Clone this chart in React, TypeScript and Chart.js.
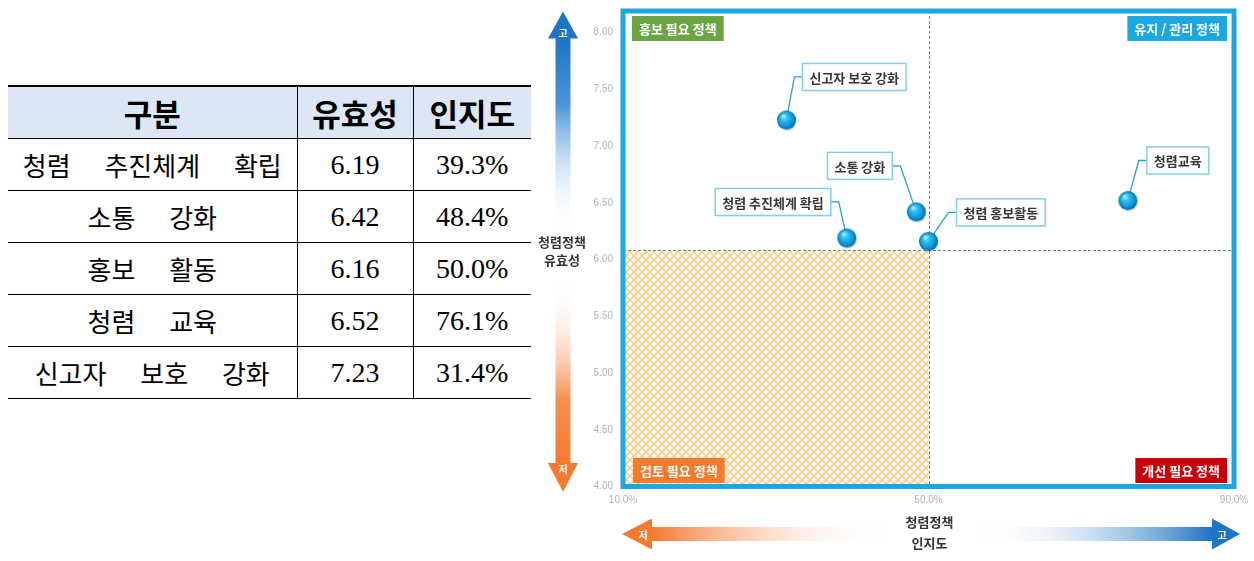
import React, { useEffect, useRef } from "react";
import { Chart, registerables } from "chart.js";

Chart.register(...registerables);

// ---------------- DATA ----------------
const tableHeaders = ["구분", "유효성", "인지도"];
const tableCategories = ["청렴 추진체계 확립", "소통 강화", "홍보 활동", "청렴 교육", "신고자 보호 강화"];
const chartLabels = ["청렴 추진체계 확립", "소통 강화", "청렴 홍보활동", "청렴교육", "신고자 보호 강화"];
const effectiveness = [6.19, 6.42, 6.16, 6.52, 7.23];
const awareness = [39.3, 48.4, 50.0, 76.1, 31.4];
const xTicks = [10, 50, 90];
const yTicks = [4, 4.5, 5, 5.5, 6, 6.5, 7, 7.5, 8];
const xRange = [10, 90];
const yRange = [4, 8.19];
const xDivider = 50;
const yDivider = 6.08;
const quadrantLabels = ["홍보 필요 정책", "유지 / 관리 정책", "검토 필요 정책", "개선 필요 정책"];
const yAxisTitle = ["청렴정책", "유효성"];
const xAxisTitle = ["청렴정책", "인지도"];
const highLabel = "고";
const lowLabel = "저";

// ---------------- STYLES ----------------
const KR = '"Noto Sans CJK KR", "Noto Sans", sans-serif';
const BORDER_BLUE = "#1ca7e3";
const quadrantStyle = [
  { color: "#6ca544", corner: "tl", ox: 9, oy: 5 },
  { color: "#1ca7e3", corner: "tr", ox: 7, oy: 5 },
  { color: "#f27b2e", corner: "bl", ox: 10, oy: 3.5 },
  { color: "#c8000b", corner: "br", ox: 7, oy: 3.5 },
];
// callout box placement relative to its point (pixels)
const calloutStyle = [
  { anchor: "right", dx: -16, dy: -36 },
  { anchor: "right", dx: -24, dy: -46 },
  { anchor: "left", dx: 28, dy: -29 },
  { anchor: "left", dx: 19, dy: -40 },
  { anchor: "left", dx: 16, dy: -43 },
];

function makeSphere(r: number) {
  const size = Math.ceil(r * 2 + 4);
  const c = document.createElement("canvas");
  c.width = size;
  c.height = size;
  const g = c.getContext("2d")!;
  const cx = size / 2;
  const cy = size / 2;
  g.fillStyle = "rgba(0,60,100,0.18)";
  g.beginPath();
  g.arc(cx + 0.8, cy + 1.2, r, 0, Math.PI * 2);
  g.fill();
  const grad = g.createRadialGradient(cx - r * 0.35, cy - r * 0.45, r * 0.05, cx, cy, r);
  grad.addColorStop(0, "#b4f2ff");
  grad.addColorStop(0.3, "#33c3f2");
  grad.addColorStop(0.8, "#0b8fd2");
  grad.addColorStop(1, "#07639f");
  g.fillStyle = grad;
  g.beginPath();
  g.arc(cx, cy, r, 0, Math.PI * 2);
  g.fill();
  return c;
}

function makeHatch(ctx: CanvasRenderingContext2D) {
  const c = document.createElement("canvas");
  c.width = 8;
  c.height = 8;
  const g = c.getContext("2d")!;
  g.fillStyle = "#fff6f1";
  g.fillRect(0, 0, 8, 8);
  g.lineWidth = 1.3;
  g.strokeStyle = "#f6c08e";
  g.beginPath();
  g.moveTo(0, 8); g.lineTo(8, 0);
  g.moveTo(-1, 1); g.lineTo(1, -1);
  g.moveTo(7, 9); g.lineTo(9, 7);
  g.stroke();
  g.strokeStyle = "#efd573";
  g.beginPath();
  g.moveTo(0, 0); g.lineTo(8, 8);
  g.moveTo(-1, 7); g.lineTo(1, 9);
  g.moveTo(7, -1); g.lineTo(9, 1);
  g.stroke();
  return ctx.createPattern(c, "repeat")!;
}

const backgroundPlugin = {
  id: "quadBg",
  beforeDatasetsDraw(chart: any) {
    const { ctx, chartArea: a, scales } = chart;
    const xs = scales.x;
    const ys = scales.y;
    const xd = xs.getPixelForValue(xDivider);
    const yd = ys.getPixelForValue(yDivider);
    ctx.save();
    ctx.fillStyle = makeHatch(ctx);
    ctx.fillRect(a.left, yd, xd - a.left, a.bottom - yd);
    ctx.strokeStyle = "#5f8aa6";
    ctx.lineWidth = 1;
    ctx.setLineDash([3, 2]);
    ctx.beginPath();
    ctx.moveTo(Math.round(xd) + 0.5, a.top);
    ctx.lineTo(Math.round(xd) + 0.5, a.bottom);
    ctx.moveTo(a.left, Math.round(yd) + 0.5);
    ctx.lineTo(a.right, Math.round(yd) + 0.5);
    ctx.stroke();
    ctx.setLineDash([]);

    // callouts
    const meta = chart.getDatasetMeta(0);
    ctx.font = `bold 13px ${KR}`;
    meta.data.forEach((pt: any, i: number) => {
      const st = calloutStyle[i];
      const text = chartLabels[i];
      const tw = ctx.measureText(text).width;
      const w = tw + 14;
      const h = 27;
      const cy = pt.y + st.dy;
      let bx: number, ex: number, jx: number;
      if (st.anchor === "right") {
        bx = pt.x + st.dx - w;
        ex = pt.x + st.dx;
        jx = ex + 8;
      } else {
        bx = pt.x + st.dx;
        ex = bx;
        jx = ex - 8;
      }
      ctx.strokeStyle = "#2f9fcc";
      ctx.lineWidth = 1.3;
      ctx.beginPath();
      ctx.moveTo(ex, cy);
      ctx.lineTo(jx, cy);
      ctx.lineTo(pt.x, pt.y);
      ctx.stroke();
      ctx.fillStyle = "rgba(0,0,0,0.06)";
      ctx.fillRect(bx + 1.5, cy - h / 2 + 1.5, w, h);
      ctx.fillStyle = "#ffffff";
      ctx.fillRect(bx, cy - h / 2, w, h);
      ctx.strokeStyle = "#86cfe8";
      ctx.lineWidth = 1.5;
      ctx.strokeRect(bx, cy - h / 2, w, h);
      ctx.fillStyle = "#363636";
      ctx.textAlign = "center";
      ctx.textBaseline = "middle";
      ctx.fillText(text, bx + w / 2, cy + 1);
    });
    ctx.restore();
  },
  afterDatasetsDraw(chart: any) {
    const { ctx, chartArea: a } = chart;
    ctx.save();
    ctx.font = `bold 13px ${KR}`;
    quadrantLabels.forEach((t, i) => {
      const st = quadrantStyle[i];
      const w = ctx.measureText(t).width + 14;
      const h = 25;
      const x = st.corner.endsWith("l") ? a.left + st.ox : a.right - st.ox - w;
      const y = st.corner.startsWith("t") ? a.top + st.oy : a.bottom - st.oy - h;
      ctx.fillStyle = st.color;
      ctx.fillRect(x, y, w, h);
      ctx.fillStyle = "#ffffff";
      ctx.textAlign = "center";
      ctx.textBaseline = "middle";
      ctx.fillText(t, x + w / 2, y + h / 2 + 1);
    });
    ctx.strokeStyle = BORDER_BLUE;
    ctx.lineWidth = 5;
    ctx.strokeRect(a.left, a.top, a.right - a.left, a.bottom - a.top);
    ctx.restore();
  },
  afterDraw(chart: any) {
    const { ctx, chartArea: a } = chart;
    ctx.save();
    const blue = "#1f74c4";
    const orange = "#f47a30";
    // vertical arrows
    const vx = a.left - 60;
    const midY = (a.top + a.bottom) / 2;
    const topTip = a.top + 0.5;
    const headLen = 27;
    const headHalf = 15;
    const shaftHalf = 7.5;
    // up
    let g = ctx.createLinearGradient(0, topTip + headLen, 0, midY - 20);
    g.addColorStop(0, blue);
    g.addColorStop(0.35, "rgba(45,130,210,0.85)");
    g.addColorStop(1, "rgba(255,255,255,0)");
    ctx.fillStyle = g;
    ctx.fillRect(vx - shaftHalf, topTip + headLen - 1, shaftHalf * 2, midY - 20 - topTip - headLen);
    ctx.fillStyle = blue;
    ctx.beginPath();
    ctx.moveTo(vx, topTip);
    ctx.lineTo(vx + headHalf, topTip + headLen);
    ctx.lineTo(vx - headHalf, topTip + headLen);
    ctx.closePath();
    ctx.fill();
    // down
    const botTip = a.bottom + 5.5;
    g = ctx.createLinearGradient(0, midY + 33, 0, botTip - headLen);
    g.addColorStop(0, "rgba(255,255,255,0)");
    g.addColorStop(0.65, "rgba(244,122,48,0.85)");
    g.addColorStop(1, orange);
    ctx.fillStyle = g;
    ctx.fillRect(vx - shaftHalf, midY + 33, shaftHalf * 2, botTip - headLen - midY - 32);
    ctx.fillStyle = orange;
    ctx.beginPath();
    ctx.moveTo(vx, botTip);
    ctx.lineTo(vx + headHalf, botTip - headLen - 2);
    ctx.lineTo(vx - headHalf, botTip - headLen - 2);
    ctx.closePath();
    ctx.fill();

    ctx.fillStyle = "#ffffff";
    ctx.font = `bold 10px ${KR}`;
    ctx.textAlign = "center";
    ctx.textBaseline = "middle";
    ctx.fillText(highLabel, vx, topTip + headLen - 5);
    ctx.fillText(lowLabel, vx, botTip - headLen + 4);

    ctx.fillStyle = "#333333";
    ctx.font = `bold 13px ${KR}`;
    ctx.fillText(yAxisTitle[0], vx - 1, midY - 7);
    ctx.fillText(yAxisTitle[1], vx - 1, midY + 11);

    // horizontal arrows
    const hy = a.bottom + 47.5;
    const midX = (a.left + a.right) / 2;
    const leftTip = a.left - 1;
    const hHead = 30;
    const hHalf = 15.5;
    const hShaft = 7;
    g = ctx.createLinearGradient(leftTip + hHead, 0, midX - 42, 0);
    g.addColorStop(0, orange);
    g.addColorStop(1, "rgba(255,255,255,0)");
    ctx.fillStyle = g;
    ctx.fillRect(leftTip + hHead - 1, hy - hShaft, midX - 42 - leftTip - hHead, hShaft * 2);
    ctx.fillStyle = orange;
    ctx.beginPath();
    ctx.moveTo(leftTip, hy);
    ctx.lineTo(leftTip + hHead, hy - hHalf);
    ctx.lineTo(leftTip + hHead, hy + hHalf);
    ctx.closePath();
    ctx.fill();

    const rightTip = a.right + 6;
    g = ctx.createLinearGradient(midX + 49, 0, rightTip - hHead + 2, 0);
    g.addColorStop(0, "rgba(255,255,255,0)");
    g.addColorStop(1, blue);
    ctx.fillStyle = g;
    ctx.fillRect(midX + 49, hy - hShaft, rightTip - hHead + 2 - midX - 49, hShaft * 2);
    ctx.fillStyle = blue;
    ctx.beginPath();
    ctx.moveTo(rightTip, hy);
    ctx.lineTo(rightTip - hHead + 2, hy - hHalf);
    ctx.lineTo(rightTip - hHead + 2, hy + hHalf);
    ctx.closePath();
    ctx.fill();

    ctx.fillStyle = "#ffffff";
    ctx.font = `bold 10px ${KR}`;
    ctx.fillText(lowLabel, leftTip + 21, hy + 1);
    ctx.fillText(highLabel, rightTip - 18, hy + 1);

    ctx.fillStyle = "#333333";
    ctx.font = `bold 13px ${KR}`;
    ctx.fillText(xAxisTitle[0], midX + 1, hy - 12);
    ctx.fillText(xAxisTitle[1], midX + 1, hy + 9);
    ctx.restore();
  },
};

const border = "1px solid #000";
const headerCell: React.CSSProperties = {
  background: "#dde6f4",
  fontFamily: KR,
  fontWeight: 700,
  fontSize: 31,
  lineHeight: "40px",
  height: 51,
  padding: 0,
  textAlign: "center",
  borderTop: "2px solid #000",
  borderBottom: border,
};
const bodyCell: React.CSSProperties = {
  height: 51,
  padding: 0,
  textAlign: "center",
  borderBottom: border,
  lineHeight: "36px",
};

export default function App() {
  const ref = useRef<HTMLCanvasElement>(null);
  useEffect(() => {
    const sphere = makeSphere(9.5);
    const chart = new Chart(ref.current!, {
      type: "scatter",
      data: {
        datasets: [
          {
            label: "정책",
            data: awareness.map((x, i) => ({ x, y: effectiveness[i] })),
            pointStyle: sphere as any,
            pointRadius: 10,
            pointHoverRadius: 10,
          },
        ],
      },
      options: {
        animation: false,
        responsive: true,
        maintainAspectRatio: false,
        events: [],
        layout: { padding: { top: 7.5, right: 20, left: 0, bottom: 0 } },
        plugins: { legend: { display: false }, tooltip: { enabled: false } },
        scales: {
          x: {
            type: "linear",
            min: xRange[0],
            max: xRange[1],
            grid: { display: false, drawTicks: false },
            border: { display: false },
            afterBuildTicks: (s: any) => {
              s.ticks = xTicks.map((v) => ({ value: v }));
            },
            afterFit: (s: any) => {
              s.height = 74.5;
              s.paddingLeft = 0;
              s.paddingRight = 0;
            },
            ticks: {
              padding: 8,
              color: "#b3b3b3",
              font: { size: 10, family: '"Liberation Sans", sans-serif' },
              callback: (v: any) => Number(v).toFixed(1) + "%",
              maxRotation: 0,
              autoSkip: false,
            },
          },
          y: {
            type: "linear",
            min: yRange[0],
            max: yRange[1],
            grid: { display: false, drawTicks: false },
            border: { display: false },
            afterBuildTicks: (s: any) => {
              s.ticks = yTicks.map((v) => ({ value: v }));
            },
            afterFit: (s: any) => {
              s.width = 93;
              s.paddingTop = 0;
              s.paddingBottom = 0;
            },
            ticks: {
              padding: 10,
              color: "#b3b3b3",
              font: { size: 10, family: '"Liberation Sans", sans-serif' },
              callback: (v: any) => Number(v).toFixed(2),
              autoSkip: false,
            },
          },
        },
      },
      plugins: [backgroundPlugin],
    });
    return () => chart.destroy();
  }, []);

  return (
    <div style={{ position: "fixed", left: 0, top: 0, width: 1254, height: 561, background: "#fff", overflow: "hidden" }}>
      <table
        style={{
          position: "absolute",
          left: 8,
          top: 85,
          width: 523,
          borderCollapse: "collapse",
          tableLayout: "fixed",
          color: "#000",
        }}
      >
        <colgroup>
          <col style={{ width: 289 }} />
          <col style={{ width: 116 }} />
          <col style={{ width: 118 }} />
        </colgroup>
        <thead>
          <tr>
            {tableHeaders.map((h, i) => (
              <th key={h} style={{ ...headerCell, borderLeft: i > 0 ? border : "none" }}>
                {h}
              </th>
            ))}
          </tr>
        </thead>
        <tbody>
          {tableCategories.map((c, i) => (
            <tr key={c}>
              <td style={{ ...bodyCell, fontFamily: KR, fontSize: 26, wordSpacing: 28 }}>{c}</td>
              <td style={{ ...bodyCell, borderLeft: border, fontFamily: '"Liberation Serif", serif', fontSize: 28 }}>
                {effectiveness[i].toFixed(2)}
              </td>
              <td style={{ ...bodyCell, borderLeft: border, fontFamily: '"Liberation Serif", serif', fontSize: 28 }}>
                {awareness[i].toFixed(1)}%
              </td>
            </tr>
          ))}
        </tbody>
      </table>
      <div style={{ position: "absolute", left: 530, top: 0, width: 724, height: 561 }}>
        <canvas ref={ref} />
      </div>
    </div>
  );
}
